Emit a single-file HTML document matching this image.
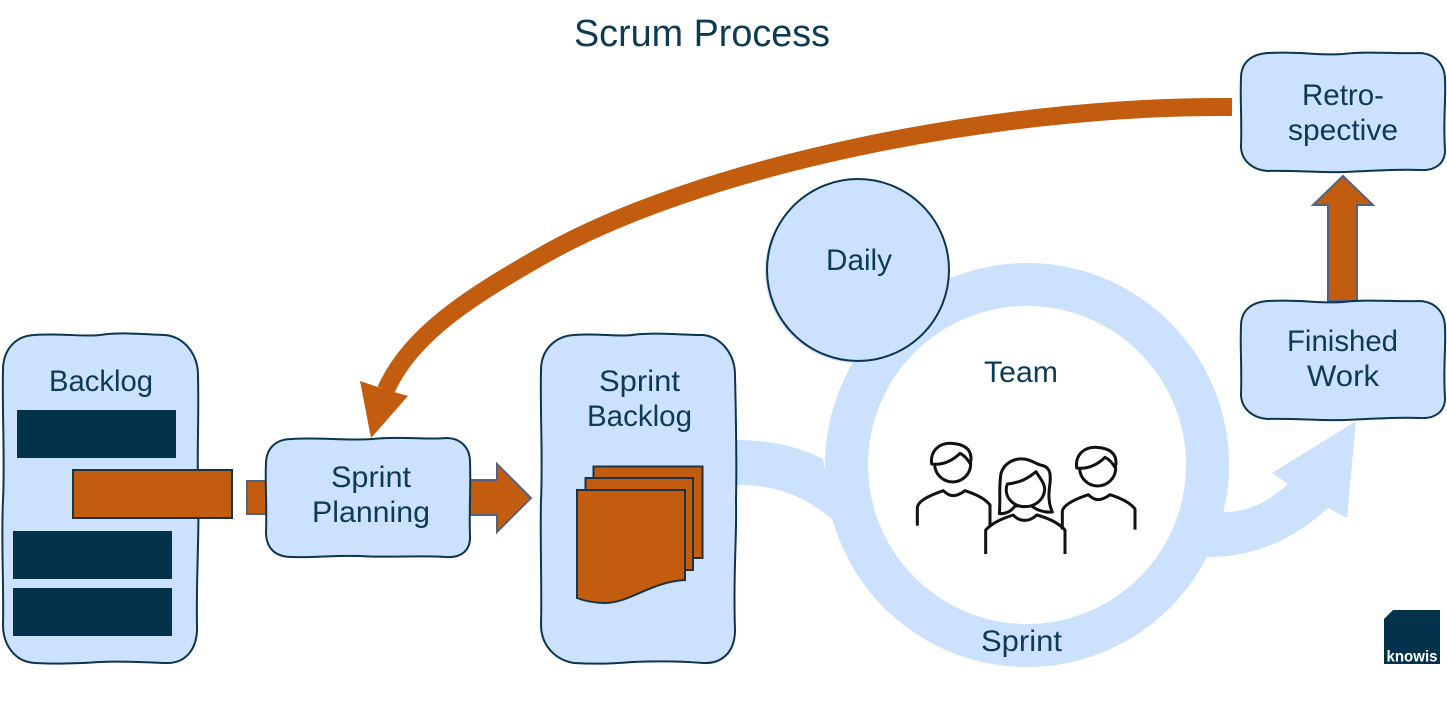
<!DOCTYPE html>
<html><head><meta charset="utf-8"><style>
html,body{margin:0;padding:0;background:#fff}
svg{display:block}
text{font-family:"Liberation Sans",sans-serif;font-size:30px;fill:#0d3a55;text-anchor:start}
.b{fill:#cce1fb;stroke:#0b3550;stroke-width:2}
.a{fill:#c25d10;stroke:#56607f;stroke-width:2}
.d{fill:#c25d10;stroke:#1d3342;stroke-width:2}
.p{fill:none;stroke:#111;stroke-linecap:butt;stroke-linejoin:round}
</style></head><body>
<svg width="1447" height="723" viewBox="0 0 1447 723" xmlns="http://www.w3.org/2000/svg">
<rect width="1447" height="723" fill="#fff"/>
<text x="574" y="46" style="font-size:38px" textLength="256" lengthAdjust="spacingAndGlyphs">Scrum Process</text>

<!-- Sprint ring and connectors -->
<path d="M736 440 C770 440 800 447 823 459 L835 522 C805 495 775 485 736 485 Z" fill="#cce1fb"/>
<circle cx="1027" cy="465" r="180.5" fill="#fff" stroke="#cce1fb" stroke-width="43"/>
<path d="M1224 512 C1250 512 1270 500 1288 484 L1272 473 L1356 421 L1347 518 L1328 508 C1290 543 1250 557 1207 557 Z" fill="#cce1fb"/>

<!-- Retro arrow -->
<path d="M1232 107 C1000 105 700 165 540 257 C470 297 410 335 386 390" fill="none" stroke="#c25d10" stroke-width="18"/>
<path d="M360 381 L378 387 L394 392 L408 396 L371 438 Z" fill="#c25d10"/>

<!-- Up arrow -->
<path class="a" d="M1328 301 V205 H1313 L1343 176 L1373 205 H1357 V301 Z"/>

<!-- Backlog -->
<path class="b" d="M34 335 C60 333 85 337 100 335 C120 332 140 334 165 335 C185 337 198 355 198 375 C199 420 197 450 198 480 C200 530 196 570 197 625 C198 650 185 664 165 663 C140 662 120 661 100 662 C75 664 55 664 35 663 C15 662 3 645 3 625 C4 590 1 540 3 500 C5 460 2 410 3 370 C3 350 15 336 34 335 Z"/>
<rect x="17" y="410" width="159" height="48" fill="#02324c"/>
<rect x="13" y="531" width="159" height="48" fill="#02324c"/>
<rect x="13" y="588" width="159" height="48" fill="#02324c"/>
<rect class="d" x="73" y="470" width="159" height="48"/>
<rect class="a" x="247" y="481" width="22" height="33"/>
<text x="49" y="391" textLength="104" lengthAdjust="spacingAndGlyphs">Backlog</text>

<!-- Sprint planning -->
<path class="a" d="M468 480 H497 V464 L531 498 L497 532 V515 H468 Z"/>
<path class="b" d="M292 439 C320 437 345 441 372 439 C400 436 430 440 446 438 C461 438 470 448 470 462 C471 490 469 510 470 535 C471 550 462 558 446 557 C420 555 390 558 360 556 C335 555 315 558 292 557 C275 557 266 548 266 532 C267 510 265 480 266 464 C266 448 276 439 292 439 Z"/>
<text x="331" y="487" textLength="80" lengthAdjust="spacingAndGlyphs">Sprint</text>
<text x="312" y="522" textLength="118" lengthAdjust="spacingAndGlyphs">Planning</text>

<!-- Sprint backlog -->
<path class="b" d="M574 335 C600 333 615 337 632 335 C655 332 680 335 703 335 C722 337 735 355 735 375 C736 420 737 460 736 500 C737 540 733 570 735 630 C735 652 722 664 703 663 C680 661 655 661 632 662 C610 664 590 664 574 663 C555 660 541 645 541 625 C542 590 540 540 541 500 C543 460 540 410 541 370 C541 350 555 336 574 335 Z"/>
<text x="599" y="391" textLength="81" lengthAdjust="spacingAndGlyphs">Sprint</text>
<text x="587" y="426" textLength="105" lengthAdjust="spacingAndGlyphs">Backlog</text>
<path class="d" d="M593.500 466.500 H702.500 V558 H593.500 Z"/>
<path class="d" d="M585.500 478 H693 V570 H585.500 Z"/>
<path class="d" d="M577 490 H685 V580 C650 582 630 603 605 603 C595 603 585 601 577 598 Z"/>

<!-- Daily -->
<circle cx="857" cy="271" r="92" fill="#cce1fb"/>
<circle cx="858" cy="270" r="91" class="b"/>
<text x="826" y="270" textLength="66" lengthAdjust="spacingAndGlyphs">Daily</text>

<text x="984" y="382" textLength="74" lengthAdjust="spacingAndGlyphs">Team</text>
<text x="981" y="651" textLength="81" lengthAdjust="spacingAndGlyphs">Sprint</text>

<!-- People -->
<g transform="translate(900 420) scale(.33333)">
<g class="p" style="stroke-width:9">
<circle cx="158" cy="132" r="54"/>
<path style="fill:#fff" d="M95 132 C90 90 120 68 155 70 C190 72 215 85 213 120 L210 130 C203 118 192 106 180 100 C160 120 130 137 95 132 Z"/>
<path d="M52 317 V262 C55 240 100 222 130 212 C140 222 150 227 160 227 C170 227 185 220 195 212 C220 220 255 235 270 255 V320"/>
<circle cx="593" cy="144" r="54"/>
<path style="fill:#fff" d="M530 144 C525 102 555 80 590 82 C625 84 650 97 648 132 L645 142 C638 130 627 118 615 112 C595 132 565 149 530 144 Z"/>
<path d="M487 329 V274 C490 252 535 234 565 224 C575 234 585 239 595 239 C605 239 620 232 630 224 C655 232 690 247 705 267 V329"/>
<path style="fill:#fff" d="M298 281 C302 240 296 200 303 160 C312 130 340 115 370 117 C395 118 410 135 430 137 C452 145 452 165 450 190 C445 225 445 250 457 276 C430 278 410 270 395 258 L345 258 C335 272 320 282 298 281 Z"/>
<path style="fill:#fff" d="M322 192 C360 188 385 175 408 155 C420 175 435 190 434 210 C430 245 400 260 375 260 C345 260 322 240 319 215 C318 205 320 197 322 192 Z"/>
<path d="M257 402 V330 C280 305 315 293 340 285 C350 297 362 301 375 301 C388 301 400 295 410 285 C440 293 475 308 495 330 V402"/>
</g></g>

<!-- Finished / Retro -->
<path class="b" d="M1268 53 C1300 51 1320 56 1343 54 C1370 51 1395 54 1420 53 C1436 54 1445 65 1445 80 C1446 100 1443 120 1445 150 C1445 163 1436 171 1420 170 C1395 169 1370 171 1345 172 C1320 173 1295 170 1268 171 C1252 170 1241 160 1241 146 C1242 120 1240 100 1241 78 C1241 62 1252 54 1268 53 Z"/>
<text x="1302" y="105" textLength="82" lengthAdjust="spacingAndGlyphs">Retro-</text>
<text x="1288" y="140" textLength="110" lengthAdjust="spacingAndGlyphs">spective</text>
<path class="b" d="M1268 301 C1300 299 1320 304 1343 302 C1370 299 1395 302 1420 301 C1436 302 1445 313 1445 328 C1446 348 1443 368 1445 398 C1445 411 1436 419 1420 418 C1395 417 1370 419 1345 420 C1320 421 1295 418 1268 419 C1252 418 1241 408 1241 394 C1242 368 1240 348 1241 326 C1241 310 1252 302 1268 301 Z"/>
<text x="1287" y="351" textLength="111" lengthAdjust="spacingAndGlyphs">Finished</text>
<text x="1307" y="386" textLength="72" lengthAdjust="spacingAndGlyphs">Work</text>

<!-- Logo -->
<path d="M1393 610 H1440 V664 H1384 V619 Z" fill="#02324c"/>
<text x="1386.500" y="661.500" textLength="51" lengthAdjust="spacingAndGlyphs" style="font-size:16px;font-weight:bold;fill:#fff">knowis</text>
</svg>
</body></html>
